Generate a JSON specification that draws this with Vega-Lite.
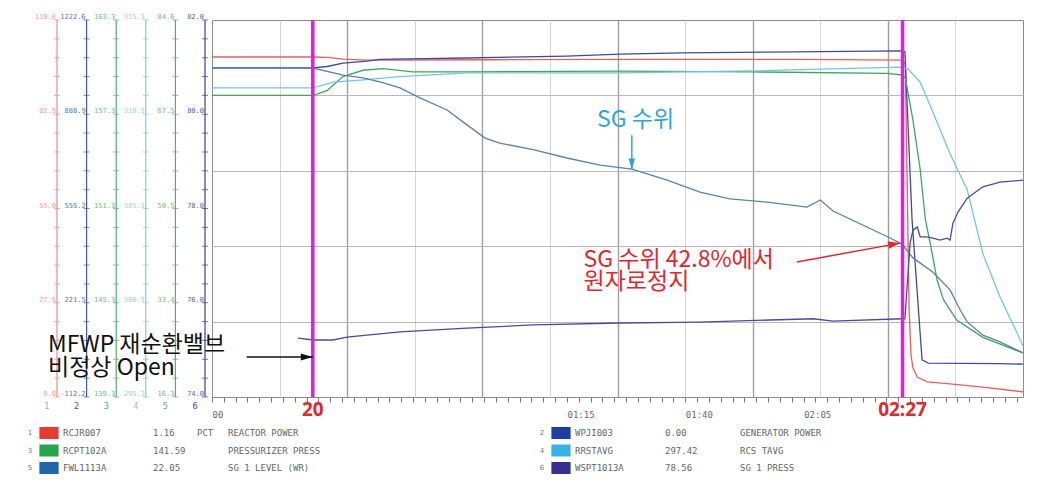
{
  "$schema": "https://vega.github.io/schema/vega-lite/v6.json",
  "background": "white",
  "padding": 0,
  "spacing": 0,
  "bounds": "flush",
  "columns": 2,
  "resolve": {"scale": {"color": "independent"}},
  "config": {"view": {"stroke": null}, "font": "Noto Sans CJK KR"},
  "datasets": {
    "trend": [
      {"sig": "RCJR007", "t": 0, "v": 99.2}, {"sig": "RCJR007", "t": 21.34, "v": 99.2}, {"sig": "RCJR007", "t": 24.35, "v": 99.1},
      {"sig": "RCJR007", "t": 27.67, "v": 98.6}, {"sig": "RCJR007", "t": 32.79, "v": 98.3}, {"sig": "RCJR007", "t": 59.51, "v": 98.4},
      {"sig": "RCJR007", "t": 86.23, "v": 98.5}, {"sig": "RCJR007", "t": 124.3, "v": 98.5}, {"sig": "RCJR007", "t": 145.79, "v": 98.3},
      {"sig": "RCJR007", "t": 146.5, "v": 97.0}, {"sig": "RCJR007", "t": 146.9, "v": 60.0}, {"sig": "RCJR007", "t": 147.3, "v": 25.0},
      {"sig": "RCJR007", "t": 147.7, "v": 12.0}, {"sig": "RCJR007", "t": 148.11, "v": 8.5}, {"sig": "RCJR007", "t": 149.01, "v": 5.8},
      {"sig": "RCJR007", "t": 151.12, "v": 4.4}, {"sig": "RCJR007", "t": 155.94, "v": 3.8}, {"sig": "RCJR007", "t": 162.87, "v": 2.9},
      {"sig": "RCJR007", "t": 171.35, "v": 1.5},
      {"sig": "WPJI003", "t": 0, "v": 1053}, {"sig": "WPJI003", "t": 21.34, "v": 1053}, {"sig": "WPJI003", "t": 24.35, "v": 1058},
      {"sig": "WPJI003", "t": 27.67, "v": 1070}, {"sig": "WPJI003", "t": 32.79, "v": 1077}, {"sig": "WPJI003", "t": 35.5, "v": 1083},
      {"sig": "WPJI003", "t": 53.88, "v": 1088}, {"sig": "WPJI003", "t": 74.98, "v": 1095}, {"sig": "WPJI003", "t": 86.23, "v": 1102},
      {"sig": "WPJI003", "t": 99.49, "v": 1106}, {"sig": "WPJI003", "t": 117.27, "v": 1109}, {"sig": "WPJI003", "t": 145.39, "v": 1113},
      {"sig": "WPJI003", "t": 146.4, "v": 1110}, {"sig": "WPJI003", "t": 147.91, "v": 515}, {"sig": "WPJI003", "t": 150.02, "v": 19},
      {"sig": "WPJI003", "t": 151.33, "v": 8}, {"sig": "WPJI003", "t": 166.49, "v": 6}, {"sig": "WPJI003", "t": 171.35, "v": 4},
      {"sig": "RCPT102A", "t": 0, "v": 158.5}, {"sig": "RCPT102A", "t": 21.34, "v": 158.5}, {"sig": "RCPT102A", "t": 24.3, "v": 158.8},
      {"sig": "RCPT102A", "t": 27.67, "v": 159.7}, {"sig": "RCPT102A", "t": 31.89, "v": 160.1}, {"sig": "RCPT102A", "t": 36.1, "v": 160.2},
      {"sig": "RCPT102A", "t": 42.43, "v": 160.0}, {"sig": "RCPT102A", "t": 53.88, "v": 160.0}, {"sig": "RCPT102A", "t": 86.23, "v": 160.05},
      {"sig": "RCPT102A", "t": 113.65, "v": 160.0}, {"sig": "RCPT102A", "t": 142.58, "v": 159.9}, {"sig": "RCPT102A", "t": 145.79, "v": 159.8},
      {"sig": "RCPT102A", "t": 146.5, "v": 159.6}, {"sig": "RCPT102A", "t": 148.11, "v": 156.9}, {"sig": "RCPT102A", "t": 149.62, "v": 153.8},
      {"sig": "RCPT102A", "t": 150.72, "v": 150.6}, {"sig": "RCPT102A", "t": 151.73, "v": 149.1}, {"sig": "RCPT102A", "t": 153.24, "v": 146.7},
      {"sig": "RCPT102A", "t": 154.54, "v": 145.5}, {"sig": "RCPT102A", "t": 157.35, "v": 144.2}, {"sig": "RCPT102A", "t": 162.87, "v": 143.1},
      {"sig": "RCPT102A", "t": 171.35, "v": 142.1},
      {"sig": "RRSTAVG", "t": 0, "v": 311.7}, {"sig": "RRSTAVG", "t": 21.34, "v": 311.7}, {"sig": "RRSTAVG", "t": 25.56, "v": 312.0},
      {"sig": "RRSTAVG", "t": 30.68, "v": 312.1}, {"sig": "RRSTAVG", "t": 39.72, "v": 312.3}, {"sig": "RRSTAVG", "t": 53.88, "v": 312.5},
      {"sig": "RRSTAVG", "t": 86.23, "v": 312.5}, {"sig": "RRSTAVG", "t": 113.65, "v": 312.6}, {"sig": "RRSTAVG", "t": 145.39, "v": 312.8},
      {"sig": "RRSTAVG", "t": 147.1, "v": 312.7}, {"sig": "RRSTAVG", "t": 149.62, "v": 312.0}, {"sig": "RRSTAVG", "t": 152.33, "v": 310.4},
      {"sig": "RRSTAVG", "t": 155.94, "v": 308.2}, {"sig": "RRSTAVG", "t": 159.56, "v": 306.3}, {"sig": "RRSTAVG", "t": 162.87, "v": 302.9},
      {"sig": "RRSTAVG", "t": 166.49, "v": 300.6}, {"sig": "RRSTAVG", "t": 170.1, "v": 298.7}, {"sig": "RRSTAVG", "t": 171.35, "v": 298.0},
      {"sig": "FWL1113A", "t": 0, "v": 75.9}, {"sig": "FWL1113A", "t": 21.34, "v": 75.9}, {"sig": "FWL1113A", "t": 27.67, "v": 74.6},
      {"sig": "FWL1113A", "t": 31.89, "v": 74.1}, {"sig": "FWL1113A", "t": 35.5, "v": 73.4}, {"sig": "FWL1113A", "t": 39.72, "v": 72.3},
      {"sig": "FWL1113A", "t": 43.94, "v": 70.5}, {"sig": "FWL1113A", "t": 49.66, "v": 68.3}, {"sig": "FWL1113A", "t": 53.08, "v": 66.1},
      {"sig": "FWL1113A", "t": 57.7, "v": 63.2}, {"sig": "FWL1113A", "t": 60.81, "v": 62.3}, {"sig": "FWL1113A", "t": 67.85, "v": 61.1},
      {"sig": "FWL1113A", "t": 74.98, "v": 59.6}, {"sig": "FWL1113A", "t": 82.01, "v": 58.3}, {"sig": "FWL1113A", "t": 88.74, "v": 57.6},
      {"sig": "FWL1113A", "t": 96.17, "v": 55.6}, {"sig": "FWL1113A", "t": 103.1, "v": 53.4}, {"sig": "FWL1113A", "t": 109.43, "v": 52.2},
      {"sig": "FWL1113A", "t": 117.27, "v": 51.6}, {"sig": "FWL1113A", "t": 125.71, "v": 50.7}, {"sig": "FWL1113A", "t": 128.52, "v": 52.0},
      {"sig": "FWL1113A", "t": 131.23, "v": 50.0}, {"sig": "FWL1113A", "t": 138.37, "v": 47.1}, {"sig": "FWL1113A", "t": 143.28, "v": 45.1},
      {"sig": "FWL1113A", "t": 145.79, "v": 44.0}, {"sig": "FWL1113A", "t": 148.11, "v": 41.5}, {"sig": "FWL1113A", "t": 152.33, "v": 38.9},
      {"sig": "FWL1113A", "t": 155.94, "v": 35.7}, {"sig": "FWL1113A", "t": 158.05, "v": 32.1}, {"sig": "FWL1113A", "t": 159.56, "v": 29.9},
      {"sig": "FWL1113A", "t": 162.87, "v": 27.5}, {"sig": "FWL1113A", "t": 166.49, "v": 26.3}, {"sig": "FWL1113A", "t": 171.35, "v": 24.3},
      {"sig": "WSPT1013A", "t": 18.17, "v": 75.25}, {"sig": "WSPT1013A", "t": 21.34, "v": 75.21}, {"sig": "WSPT1013A", "t": 25.56, "v": 75.21},
      {"sig": "WSPT1013A", "t": 28.52, "v": 75.27}, {"sig": "WSPT1013A", "t": 39.72, "v": 75.38}, {"sig": "WSPT1013A", "t": 53.88, "v": 75.46},
      {"sig": "WSPT1013A", "t": 67.85, "v": 75.53}, {"sig": "WSPT1013A", "t": 86.23, "v": 75.57}, {"sig": "WSPT1013A", "t": 103.1, "v": 75.59},
      {"sig": "WSPT1013A", "t": 127.01, "v": 75.66}, {"sig": "WSPT1013A", "t": 131.23, "v": 75.61}, {"sig": "WSPT1013A", "t": 145.79, "v": 75.66},
      {"sig": "WSPT1013A", "t": 146.4, "v": 75.66}, {"sig": "WSPT1013A", "t": 147.5, "v": 77.27}, {"sig": "WSPT1013A", "t": 148.11, "v": 77.54},
      {"sig": "WSPT1013A", "t": 149.01, "v": 77.61}, {"sig": "WSPT1013A", "t": 149.62, "v": 77.40}, {"sig": "WSPT1013A", "t": 151.12, "v": 77.40},
      {"sig": "WSPT1013A", "t": 152.33, "v": 77.37}, {"sig": "WSPT1013A", "t": 153.84, "v": 77.33}, {"sig": "WSPT1013A", "t": 155.35, "v": 77.37},
      {"sig": "WSPT1013A", "t": 155.94, "v": 77.33}, {"sig": "WSPT1013A", "t": 156.55, "v": 77.69}, {"sig": "WSPT1013A", "t": 157.65, "v": 77.93},
      {"sig": "WSPT1013A", "t": 159.56, "v": 78.22}, {"sig": "WSPT1013A", "t": 162.87, "v": 78.46}, {"sig": "WSPT1013A", "t": 166.49, "v": 78.56},
      {"sig": "WSPT1013A", "t": 171.35, "v": 78.60}
    ],
    "channels": [
      {"ch": 1, "tag": "RCJR007", "val": "1.16", "unit": "PCT", "desc": "REACTOR POWER"},
      {"ch": 2, "tag": "WPJI003", "val": "0.00", "unit": "", "desc": "GENERATOR POWER"},
      {"ch": 3, "tag": "RCPT102A", "val": "141.59", "unit": "", "desc": "PRESSURIZER PRESS"},
      {"ch": 4, "tag": "RRSTAVG", "val": "297.42", "unit": "", "desc": "RCS TAVG"},
      {"ch": 5, "tag": "FWL1113A", "val": "22.05", "unit": "", "desc": "SG 1 LEVEL (WR)"},
      {"ch": 6, "tag": "WSPT1013A", "val": "78.56", "unit": "", "desc": "SG 1 PRESS"}
    ],
    "scaleTicks": [
      {"lv": 0, "chs": [1,2,3,4,5,6]}, {"lv": 5.5, "chs": [1,2,3,4,5,6]}, {"lv": 11, "chs": [1,2,3,4,5,6]},
      {"lv": 16.5, "chs": [1,2,3,4,5,6]}, {"lv": 22, "chs": [1,2,3,4,5,6]}, {"lv": 27.5, "chs": [1,2,3,4,5,6]},
      {"lv": 33, "chs": [1,2,3,4,5,6]}, {"lv": 38.5, "chs": [1,2,3,4,5,6]}, {"lv": 44, "chs": [1,2,3,4,5,6]},
      {"lv": 49.5, "chs": [1,2,3,4,5,6]}, {"lv": 55, "chs": [1,2,3,4,5,6]}, {"lv": 60.5, "chs": [1,2,3,4,5,6]},
      {"lv": 66, "chs": [1,2,3,4,5,6]}, {"lv": 71.5, "chs": [1,2,3,4,5,6]}, {"lv": 77, "chs": [1,2,3,4,5,6]},
      {"lv": 82.5, "chs": [1,2,3,4,5,6]}, {"lv": 88, "chs": [1,2,3,4,5,6]}, {"lv": 93.5, "chs": [1,2,3,4,5,6]},
      {"lv": 99, "chs": [1,2,3,4,5,6]}, {"lv": 104.5, "chs": [1,2,3,4,5,6]}, {"lv": 110, "chs": [1,2,3,4,5,6]}
    ],
    "scaleLabels": [
      {"ch": 1, "lv": 110, "label": "110.0"}, {"ch": 1, "lv": 82.5, "label": "82.5"}, {"ch": 1, "lv": 55, "label": "55.0"}, {"ch": 1, "lv": 27.5, "label": "27.5"}, {"ch": 1, "lv": 0, "label": "0.0"},
      {"ch": 2, "lv": 110, "label": "1222.6"}, {"ch": 2, "lv": 82.5, "label": "888.9"}, {"ch": 2, "lv": 55, "label": "555.2"}, {"ch": 2, "lv": 27.5, "label": "221.5"}, {"ch": 2, "lv": 0, "label": "-112.2"},
      {"ch": 3, "lv": 110, "label": "163.3"}, {"ch": 3, "lv": 82.5, "label": "157.3"}, {"ch": 3, "lv": 55, "label": "151.3"}, {"ch": 3, "lv": 27.5, "label": "145.3"}, {"ch": 3, "lv": 0, "label": "139.3"},
      {"ch": 4, "lv": 110, "label": "315.3"}, {"ch": 4, "lv": 82.5, "label": "310.3"}, {"ch": 4, "lv": 55, "label": "305.3"}, {"ch": 4, "lv": 27.5, "label": "300.3"}, {"ch": 4, "lv": 0, "label": "295.3"},
      {"ch": 5, "lv": 110, "label": "84.6"}, {"ch": 5, "lv": 82.5, "label": "67.5"}, {"ch": 5, "lv": 55, "label": "50.5"}, {"ch": 5, "lv": 27.5, "label": "33.4"}, {"ch": 5, "lv": 0, "label": "16.3"},
      {"ch": 6, "lv": 110, "label": "82.0"}, {"ch": 6, "lv": 82.5, "label": "80.0"}, {"ch": 6, "lv": 55, "label": "78.0"}, {"ch": 6, "lv": 27.5, "label": "76.0"}, {"ch": 6, "lv": 0, "label": "74.0"}
    ],
    "events": [{"t": 21.3, "label": "20"}, {"t": 145.9, "label": "02:27"}],
    "notes": [
      {"kind": "sg", "t": 81.35, "v": 80.8, "text": "SG 수위"},
      {"kind": "trip", "t": 78.5, "v": 40.0, "text": "SG 수위 42.8%에서"},
      {"kind": "trip", "t": 78.5, "v": 33.6, "text": "원자로정지"},
      {"kind": "mfwp", "t": -34.65, "v": 15.2, "text": "MFWP 재순환밸브"},
      {"kind": "mfwp", "t": -34.65, "v": 8.5, "text": "비정상 Open"}
    ],
    "arrows": [
      {"kind": "mfwp", "t1": 7.33, "v1": 11.67, "t2": 21.3, "v2": 11.67},
      {"kind": "sg", "t1": 88.7, "v1": 76.4, "t2": 88.7, "v2": 66.5},
      {"kind": "trip", "t1": 123.6, "v1": 39.4, "t2": 145.4, "v2": 44.9}
    ]
  },
  "concat": [
    {"width": 212, "height": 20, "data": {"values": []}, "mark": "point"},
    {"width": 811, "height": 20, "data": {"values": []}, "mark": "point"},
    {
      "width": 212,
      "height": 377,
      "layer": [
        {
          "data": {"name": "channels"},
          "mark": {"type": "rule", "strokeWidth": 1.2},
          "encoding": {
            "x": {"field": "ch", "type": "quantitative", "scale": {"domain": [1, 6], "range": [57, 205]}, "axis": null},
            "color": {"field": "ch", "type": "nominal", "scale": {"domain": [1,2,3,4,5,6], "range": ["#ee8a8a","#4856a6","#4fae6e","#8ec5df","#62a87c","#3e3e92"]}, "legend": null}
          }
        },
        {
          "data": {"name": "scaleTicks"},
          "transform": [{"flatten": ["chs"], "as": ["ch"]}],
          "mark": {"type": "tick", "orient": "horizontal", "size": 6, "thickness": 1},
          "encoding": {
            "x": {"field": "ch", "type": "quantitative", "scale": {"domain": [1, 6], "range": [57, 205]}, "axis": null},
            "y": {"field": "lv", "type": "quantitative", "scale": {"domain": [0, 110], "nice": false, "zero": false}, "axis": null},
            "color": {"field": "ch", "type": "nominal", "scale": {"domain": [1,2,3,4,5,6], "range": ["#ee8a8a","#4856a6","#4fae6e","#8ec5df","#62a87c","#3e3e92"]}, "legend": null}
          }
        },
        {
          "data": {"name": "scaleLabels"},
          "mark": {"type": "text", "align": "right", "baseline": "alphabetic", "dx": -1, "dy": -1, "fontSize": 7, "font": "DejaVu Sans Mono", "opacity": 0.85},
          "encoding": {
            "x": {"field": "ch", "type": "quantitative", "scale": {"domain": [1, 6], "range": [57, 205]}, "axis": null},
            "y": {"field": "lv", "type": "quantitative", "scale": {"domain": [0, 110], "nice": false, "zero": false}, "axis": null},
            "text": {"field": "label"},
            "color": {"field": "ch", "type": "nominal", "scale": {"domain": [1,2,3,4,5,6], "range": ["#ee8a8a","#4856a6","#4fae6e","#8ec5df","#62a87c","#3e3e92"]}, "legend": null}
          }
        },
        {
          "data": {"name": "channels"},
          "mark": {"type": "text", "fontSize": 8, "dx": -10, "baseline": "middle", "font": "DejaVu Sans"},
          "encoding": {
            "x": {"field": "ch", "type": "quantitative", "scale": {"domain": [1, 6], "range": [57, 205]}, "axis": null},
            "y": {"datum": -2.9, "type": "quantitative", "scale": {"domain": [0, 110], "nice": false, "zero": false}, "axis": null},
            "text": {"field": "ch"},
            "color": {"field": "ch", "type": "nominal", "scale": {"domain": [1,2,3,4,5,6], "range": ["#ee8a8a","#4856a6","#4fae6e","#8ec5df","#62a87c","#3e3e92"]}, "legend": null}
          }
        }
      ]
    },
    {
      "width": 811,
      "height": 377,
      "view": {"stroke": "#8c8c8c", "strokeWidth": 1},
      "resolve": {"scale": {"y": "independent"}, "axis": {"x": "independent", "y": "independent"}},
      "layer": [
        {
          "data": {"name": "trend"},
          "transform": [{"filter": "datum.sig == 'RCJR007'"}],
          "mark": {"type": "line", "color": "#e2605c", "strokeWidth": 1.3},
          "encoding": {
            "x": {"field": "t", "type": "quantitative", "scale": {"domain": [0, 171.35], "nice": false, "zero": false},
              "axis": {"orient": "bottom", "title": null, "grid": false, "domain": false,
                "values": [0,2.5,5,7.5,10,12.5,15,17.5,20,22.5,25,27.5,30,32.5,35,37.5,40,42.5,45,47.5,50,52.5,55,57.5,60,62.5,65,67.5,70,72.5,75,77.5,80,82.5,85,87.5,90,92.5,95,97.5,100,102.5,105,107.5,110,112.5,115,117.5,120,122.5,125,127.5,130,132.5,135,137.5,140,142.5,145,147.5,150,152.5,155,157.5,160,162.5,165,167.5,170],
                "tickSize": 5, "tickColor": "#7a7a7a", "labelAlign": "left", "labelPadding": 8, "labelFlush": false, "labelOverlap": false,
                "labelFont": "DejaVu Sans Mono", "labelFontSize": 9, "labelColor": "#6a6a6a",
                "labelExpr": "datum.value == 0 ? '00' : (datum.value == 75 ? '01:15' : (datum.value == 100 ? '01:40' : (datum.value == 125 ? '02:05' : '')))"}},
            "y": {"field": "v", "type": "quantitative", "scale": {"domain": [0, 110], "nice": false, "zero": false},
              "axis": {"orient": "left", "title": null, "values": [22, 44, 66, 88], "grid": true, "gridColor": "#b8b8b8", "gridWidth": 1, "labels": false, "ticks": false, "domain": false}}
          }
        },
        {
          "data": {"name": "trend"},
          "transform": [{"filter": "datum.sig == 'WPJI003'"}],
          "mark": {"type": "line", "color": "#3d4b9c", "strokeWidth": 1.3},
          "encoding": {
            "x": {"field": "t", "type": "quantitative", "scale": {"domain": [0, 171.35], "nice": false, "zero": false},
              "axis": {"orient": "top", "title": null, "labels": false, "ticks": false, "domain": false, "grid": true,
                "values": [14.28, 28.56, 42.84, 57.12, 71.4, 85.68, 99.96, 114.24, 128.52, 142.8, 157.08],
                "gridColor": {"condition": {"test": "indexof([28.56, 57.12, 85.68, 114.24, 142.8], datum.value) >= 0", "value": "#a0a0a0"}, "value": "#d6d6d6"},
                "gridWidth": {"condition": {"test": "indexof([28.56, 57.12, 85.68, 114.24, 142.8], datum.value) >= 0", "value": 1.4}, "value": 1}}},
            "y": {"field": "v", "type": "quantitative", "scale": {"domain": [-112.2, 1222.6], "nice": false, "zero": false}, "axis": null}
          }
        },
        {
          "data": {"name": "trend"},
          "transform": [{"filter": "datum.sig == 'RCPT102A'"}],
          "mark": {"type": "line", "color": "#3fa566", "strokeWidth": 1.3},
          "encoding": {
            "x": {"field": "t", "type": "quantitative", "scale": {"domain": [0, 171.35], "nice": false, "zero": false}, "axis": null},
            "y": {"field": "v", "type": "quantitative", "scale": {"domain": [139.3, 163.3], "nice": false, "zero": false}, "axis": null}
          }
        },
        {
          "data": {"name": "trend"},
          "transform": [{"filter": "datum.sig == 'RRSTAVG'"}],
          "mark": {"type": "line", "color": "#72c6de", "strokeWidth": 1.3},
          "encoding": {
            "x": {"field": "t", "type": "quantitative", "scale": {"domain": [0, 171.35], "nice": false, "zero": false}, "axis": null},
            "y": {"field": "v", "type": "quantitative", "scale": {"domain": [295.3, 315.3], "nice": false, "zero": false}, "axis": null}
          }
        },
        {
          "data": {"name": "trend"},
          "transform": [{"filter": "datum.sig == 'FWL1113A'"}],
          "mark": {"type": "line", "color": "#5a82ad", "strokeWidth": 1.3},
          "encoding": {
            "x": {"field": "t", "type": "quantitative", "scale": {"domain": [0, 171.35], "nice": false, "zero": false}, "axis": null},
            "y": {"field": "v", "type": "quantitative", "scale": {"domain": [16.3, 84.6], "nice": false, "zero": false}, "axis": null}
          }
        },
        {
          "data": {"name": "trend"},
          "transform": [{"filter": "datum.sig == 'WSPT1013A'"}],
          "mark": {"type": "line", "color": "#4c4a9c", "strokeWidth": 1.3},
          "encoding": {
            "x": {"field": "t", "type": "quantitative", "scale": {"domain": [0, 171.35], "nice": false, "zero": false}, "axis": null},
            "y": {"field": "v", "type": "quantitative", "scale": {"domain": [74, 82], "nice": false, "zero": false}, "axis": null}
          }
        },
        {
          "data": {"name": "events"},
          "mark": {"type": "rule", "color": "#e619e6", "strokeWidth": 3.5},
          "encoding": {
            "x": {"field": "t", "type": "quantitative", "scale": {"domain": [0, 171.35], "nice": false, "zero": false}, "axis": null}
          }
        },
        {
          "data": {"name": "events"},
          "mark": {"type": "text", "color": "#e3262d", "fontSize": 19, "fontWeight": "bold", "font": "Noto Sans", "baseline": "middle"},
          "encoding": {
            "x": {"field": "t", "type": "quantitative", "scale": {"domain": [0, 171.35], "nice": false, "zero": false}, "axis": null},
            "y": {"datum": -3.8, "type": "quantitative", "scale": {"domain": [0, 110], "nice": false, "zero": false}, "axis": null},
            "text": {"field": "label"}
          }
        },
        {
          "data": {"name": "arrows"},
          "mark": {"type": "rule", "strokeWidth": 1.5},
          "encoding": {
            "x": {"field": "t1", "type": "quantitative", "scale": {"domain": [0, 171.35], "nice": false, "zero": false}, "axis": null},
            "x2": {"field": "t2"},
            "y": {"field": "v1", "type": "quantitative", "scale": {"domain": [0, 110], "nice": false, "zero": false}, "axis": null},
            "y2": {"field": "v2"},
            "color": {"field": "kind", "type": "nominal", "scale": {"domain": ["mfwp", "sg", "trip"], "range": ["#111111", "#2aa6de", "#e3262d"]}, "legend": null}
          }
        },
        {
          "data": {"name": "arrows"},
          "transform": [{"filter": "datum.kind == 'mfwp'"}],
          "mark": {"type": "point", "shape": "M-1,-0.6L1,0L-1,0.6Z", "filled": true, "size": 144, "opacity": 1, "color": "#111111", "xOffset": -6},
          "encoding": {
            "x": {"field": "t2", "type": "quantitative", "scale": {"domain": [0, 171.35], "nice": false, "zero": false}, "axis": null},
            "y": {"field": "v2", "type": "quantitative", "scale": {"domain": [0, 110], "nice": false, "zero": false}, "axis": null}
          }
        },
        {
          "data": {"name": "arrows"},
          "transform": [{"filter": "datum.kind == 'sg'"}],
          "mark": {"type": "point", "shape": "M-1,-0.6L1,0L-1,0.6Z", "filled": true, "size": 120, "opacity": 1, "color": "#2aa6de", "angle": 90, "yOffset": -5},
          "encoding": {
            "x": {"field": "t2", "type": "quantitative", "scale": {"domain": [0, 171.35], "nice": false, "zero": false}, "axis": null},
            "y": {"field": "v2", "type": "quantitative", "scale": {"domain": [0, 110], "nice": false, "zero": false}, "axis": null}
          }
        },
        {
          "data": {"name": "arrows"},
          "transform": [{"filter": "datum.kind == 'trip'"}],
          "mark": {"type": "point", "shape": "M-1,-0.6L1,0L-1,0.6Z", "filled": true, "size": 144, "opacity": 1, "color": "#e3262d", "angle": -10, "xOffset": -5.9, "yOffset": 1},
          "encoding": {
            "x": {"field": "t2", "type": "quantitative", "scale": {"domain": [0, 171.35], "nice": false, "zero": false}, "axis": null},
            "y": {"field": "v2", "type": "quantitative", "scale": {"domain": [0, 110], "nice": false, "zero": false}, "axis": null}
          }
        },
        {
          "data": {"name": "notes"},
          "mark": {"type": "text", "align": "left", "baseline": "middle", "fontSize": 23, "font": "Noto Sans CJK KR"},
          "encoding": {
            "x": {"field": "t", "type": "quantitative", "scale": {"domain": [0, 171.35], "nice": false, "zero": false}, "axis": null},
            "y": {"field": "v", "type": "quantitative", "scale": {"domain": [0, 110], "nice": false, "zero": false}, "axis": null},
            "text": {"field": "text"},
            "color": {"field": "kind", "type": "nominal", "scale": {"domain": ["mfwp", "sg", "trip"], "range": ["#111111", "#2aa6de", "#e3262d"]}, "legend": null}
          }
        }
      ]
    },
    {
      "width": 212,
      "height": 92,
      "data": {"name": "channels"},
      "transform": [
        {"calculate": "(datum.ch + 1) % 2", "as": "side"},
        {"calculate": "ceil(datum.ch / 2)", "as": "row"}
      ],
      "encoding": {
        "x": {"field": "side", "type": "quantitative", "scale": {"domain": [0, 1], "range": [30, 542]}, "axis": null},
        "y": {"field": "row", "type": "quantitative", "scale": {"domain": [1, 3], "range": [36, 71]}, "axis": null}
      },
      "layer": [
        {"mark": {"type": "text", "fontSize": 7, "color": "#777777", "baseline": "middle", "font": "DejaVu Sans"}, "encoding": {"text": {"field": "ch"}}},
        {"mark": {"type": "point", "shape": "M-1.6,-1L1.6,-1L1.6,1L-1.6,1Z", "filled": true, "size": 144, "opacity": 1, "xOffset": 19},
         "encoding": {"color": {"field": "ch", "type": "nominal", "scale": {"domain": [1,2,3,4,5,6], "range": ["#e8392f","#1c3fa5","#27a44c","#36b3e3","#1f66ae","#362f94"]}, "legend": null}}},
        {"mark": {"type": "text", "align": "left", "baseline": "middle", "dx": 33, "fontSize": 9, "font": "DejaVu Sans Mono", "color": "#666666"}, "encoding": {"text": {"field": "tag"}}},
        {"mark": {"type": "text", "align": "left", "baseline": "middle", "dx": 123, "fontSize": 9, "font": "DejaVu Sans Mono", "color": "#666666"}, "encoding": {"text": {"field": "val"}}},
        {"mark": {"type": "text", "align": "left", "baseline": "middle", "dx": 167, "fontSize": 9, "font": "DejaVu Sans Mono", "color": "#666666"}, "encoding": {"text": {"field": "unit"}}},
        {"mark": {"type": "text", "align": "left", "baseline": "middle", "dx": 198, "fontSize": 9, "font": "DejaVu Sans Mono", "color": "#666666"}, "encoding": {"text": {"field": "desc"}}}
      ]
    },
    {"width": 811, "height": 92, "data": {"values": []}, "mark": "point"}
  ]
}
